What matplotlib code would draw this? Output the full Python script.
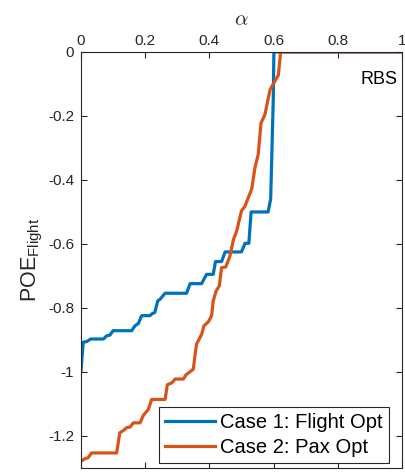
import matplotlib
matplotlib.use("Agg")
import matplotlib.pyplot as plt

plt.rcParams['font.family'] = ['Liberation Sans', 'DejaVu Sans']
plt.rcParams['mathtext.fontset'] = 'custom'
plt.rcParams['mathtext.rm'] = 'Liberation Sans'
plt.rcParams['mathtext.it'] = 'Liberation Sans:italic'
plt.rcParams['mathtext.bf'] = 'Liberation Sans:bold'

# Case 1: Flight Opt
c1_alpha = [0.0, 0.007, 0.018, 0.03, 0.07, 0.08, 0.09, 0.10, 0.158, 0.168, 0.179, 0.189,
            0.215, 0.22, 0.23, 0.239, 0.246, 0.262, 0.329, 0.34, 0.376, 0.391, 0.412,
            0.419, 0.438, 0.449, 0.50, 0.511, 0.523, 0.530, 0.583, 0.591, 0.599, 0.601, 1.0]
c1_poe = [-0.996, -0.907, -0.905, -0.897, -0.897, -0.887, -0.885, -0.871, -0.871, -0.856,
          -0.848, -0.824, -0.824, -0.819, -0.814, -0.778, -0.773, -0.754, -0.754, -0.724,
          -0.724, -0.695, -0.695, -0.655, -0.655, -0.625, -0.625, -0.598, -0.598, -0.50,
          -0.50, -0.459, -0.15, 0.0, 0.0]

# Case 2: Pax Opt
c2_alpha = [0.0, 0.012, 0.022, 0.033, 0.111, 0.121, 0.132, 0.142, 0.153, 0.163, 0.184,
            0.194, 0.21, 0.22, 0.262, 0.269, 0.283, 0.293, 0.319, 0.327, 0.34, 0.35,
            0.355, 0.36, 0.376, 0.383, 0.397, 0.407, 0.412, 0.421, 0.431, 0.438, 0.451,
            0.464, 0.475, 0.485, 0.50, 0.511, 0.521, 0.532, 0.542, 0.552, 0.561, 0.573,
            0.589, 0.604, 0.615, 0.622, 1.0]
c2_poe = [-1.279, -1.271, -1.268, -1.253, -1.253, -1.19, -1.183, -1.174, -1.172, -1.159,
          -1.159, -1.136, -1.117, -1.086, -1.086, -1.04, -1.034, -1.022, -1.022, -1.009,
          -0.999, -0.991, -0.949, -0.913, -0.882, -0.856, -0.843, -0.824, -0.778, -0.747,
          -0.731, -0.674, -0.672, -0.638, -0.586, -0.56, -0.497, -0.482, -0.456, -0.428,
          -0.362, -0.321, -0.222, -0.196, -0.118, -0.092, -0.072, 0.0, 0.0]

xticks = [0, 0.2, 0.4, 0.6, 0.8, 1]
xticklabels = ['0', '0.2', '0.4', '0.6', '0.8', '1']
yticks = [0, -0.2, -0.4, -0.6, -0.8, -1, -1.2]
yticklabels = ['0', '-0.2', '-0.4', '-0.6', '-0.8', '-1', '-1.2']

fig = plt.figure(figsize=(4.06, 4.72), dpi=100)
ax = fig.add_axes([0.1995, 0.0085, 0.7905, 0.8815])

ax.plot(c1_alpha, c1_poe, color='#0072BD', lw=2.3, label='Case 1: Flight Opt')
ax.plot(c2_alpha, c2_poe, color='#D95319', lw=2.3, label='Case 2: Pax Opt')

ax.set_xlim(0, 1)
ax.set_ylim(-1.3, 0)
ax.set_xticks(xticks)
ax.set_xticklabels(xticklabels)
ax.set_yticks(yticks)
ax.set_yticklabels(yticklabels)
ax.xaxis.set_ticks_position('both')
ax.xaxis.set_label_position('top')
ax.tick_params(axis='x', labeltop=True, labelbottom=False)
ax.yaxis.set_ticks_position('both')
ax.tick_params(direction='in', length=4, width=0.8, colors='#262626', labelsize=11, pad=5)
ax.tick_params(axis='x', pad=3)
for s in ax.spines.values():
    s.set_color('#262626')
    s.set_linewidth(0.8)

ax.set_xlabel(r'$\alpha$', fontsize=15, color='#262626', labelpad=6, math_fontfamily='cm')
ax.set_ylabel(r'POE$_{\mathrm{Flight}}$', fontsize=15.5, color='#262626', labelpad=2)

ax.text(0.985, 0.955, 'RBS', transform=ax.transAxes, ha='right', va='top', fontsize=13,
        color='black')

leg = ax.legend(loc='lower right', bbox_to_anchor=(0.9595, 0.012), fontsize=14.5,
                frameon=True, fancybox=False, edgecolor='#262626', handlelength=2.5,
                borderaxespad=0.0, borderpad=0.3, labelspacing=0.3, handletextpad=0.25,
                framealpha=1)
leg.get_frame().set_linewidth(0.8)

fig.savefig('out.png', dpi=100)
